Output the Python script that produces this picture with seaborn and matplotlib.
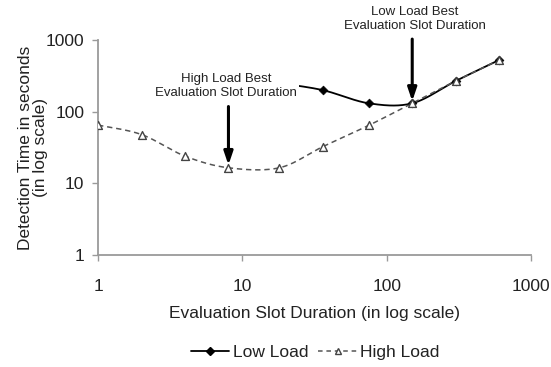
import numpy as np
import pandas as pd
import matplotlib
matplotlib.use("Agg")
import matplotlib.pyplot as plt
from matplotlib.lines import Line2D
import seaborn as sns

# Evaluation slot durations and detection times (seconds)
high_x = [1, 2, 4, 8, 18, 36, 75, 150, 300, 600]
high_y = [65, 48, 24, 16.5, 16.5, 32.5, 64.5, 131, 268, 526]

low_x = [18, 36, 75, 150, 300, 600]
low_y = [250, 200, 131, 131, 268, 526]

x_ticks = [1, 10, 100, 1000]
y_ticks = [1, 10, 100, 1000]


def smooth_loglog(xs, ys, n=40):
    """Catmull-Rom curve through the points, built in log-log space."""
    lx = np.log10(np.asarray(xs, float))
    ly = np.log10(np.asarray(ys, float))
    P = np.column_stack([lx, ly])
    P = np.vstack([P[0], P, P[-1]])
    out = []
    for i in range(1, len(P) - 2):
        p0, p1, p2, p3 = P[i - 1], P[i], P[i + 1], P[i + 2]
        t = np.linspace(0, 1, n, endpoint=(i == len(P) - 3))[:, None]
        seg = 0.5 * ((2 * p1) + (-p0 + p2) * t +
                     (2 * p0 - 5 * p1 + 4 * p2 - p3) * t ** 2 +
                     (-p0 + 3 * p1 - 3 * p2 + p3) * t ** 3)
        out.append(seg)
    out = np.vstack(out)
    return 10 ** out[:, 0], 10 ** out[:, 1]


sns.set_theme(style="white")
plt.rcParams["font.family"] = ["Liberation Sans", "DejaVu Sans"]

fig = plt.figure(figsize=(5.51, 3.67), dpi=100)
ax = fig.add_axes([0.178, 0.305, 0.786, 0.586])

hx, hy = smooth_loglog(high_x, high_y)
lx, ly = smooth_loglog(low_x, low_y)
high_curve = pd.DataFrame({"x": hx, "y": hy})
low_curve = pd.DataFrame({"x": lx, "y": ly})

sns.lineplot(data=low_curve, x="x", y="y", ax=ax, color="black",
             lw=1.3, sort=False, estimator=None, zorder=2)
sns.lineplot(data=high_curve, x="x", y="y", ax=ax, color="#555555",
             lw=1.1, sort=False, estimator=None, zorder=3,
             linestyle=(0, (3.5, 2.5)))

sns.scatterplot(x=low_x, y=low_y, ax=ax, marker="D", s=20,
                color="black", edgecolor="black", linewidth=0.5, zorder=4)
sns.scatterplot(x=high_x, y=high_y, ax=ax, marker="^", s=32,
                facecolor="white", edgecolor="#444444", linewidth=1.0,
                zorder=5)

ax.set_xscale("log")
ax.set_yscale("log")
ax.set_xlim(1, 1000)
ax.set_ylim(1, 1000)
ax.set_xticks(x_ticks)
ax.set_xticklabels([str(v) for v in x_ticks])
ax.set_yticks(y_ticks)
ax.set_yticklabels([str(v) for v in y_ticks])
ax.minorticks_off()

for side in ["top", "right"]:
    ax.spines[side].set_visible(False)
for side in ["left", "bottom"]:
    ax.spines[side].set_color("#9a9a9a")
    ax.spines[side].set_linewidth(1.3)
ax.tick_params(axis="both", which="major", direction="out", length=4,
               width=1, color="#9a9a9a", labelsize=12.5, labelcolor="#222222",
               bottom=True, left=True)
ax.tick_params(axis="x", pad=13)
ax.tick_params(axis="y", pad=6)

ax.set_xlabel("Evaluation Slot Duration (in log scale)", fontsize=12.5,
              color="#222222", labelpad=9)
ax.set_ylabel("Detection Time in seconds\n(in log scale)", fontsize=12.5,
              color="#222222", labelpad=-2, linespacing=1.0)

# Callouts marking the best slot duration for each load
arrow_style = dict(arrowstyle="-|>,head_length=0.65,head_width=0.22",
                   color="black", lw=2.2, shrinkA=0, shrinkB=0)
ax.annotate("", xy=(8, 18), xytext=(8, 118), arrowprops=arrow_style,
            zorder=6)
ax.text(7.7, 228, "High Load Best\nEvaluation Slot Duration",
        ha="center", va="center", fontsize=9.5, color="#222222",
        linespacing=1.25, zorder=7,
        bbox=dict(facecolor="white", edgecolor="none", pad=1.5))

ax.annotate("", xy=(150, 140), xytext=(150, 1030), arrowprops=arrow_style,
            zorder=6, annotation_clip=False)
ax.text(157, 1950, "Low Load Best\nEvaluation Slot Duration",
        ha="center", va="center", fontsize=9.5, color="#222222",
        linespacing=1.25, clip_on=False)

handles = [
    Line2D([0], [0], color="black", lw=1.3, marker="D", markersize=4,
           markerfacecolor="black"),
    Line2D([0], [0], color="#555555", lw=1.1, linestyle=(0, (3, 2.5)),
           marker="^", markersize=5, markerfacecolor="white",
           markeredgecolor="#444444"),
]
fig.legend(handles, ["Low Load", "High Load"], loc="center",
           bbox_to_anchor=(0.572, 0.04), ncol=2, frameon=False,
           fontsize=12.5, handlelength=2.2, handletextpad=0.2,
           columnspacing=0.6, labelcolor="#222222")

fig.savefig("out.png", dpi=100, facecolor="white")
